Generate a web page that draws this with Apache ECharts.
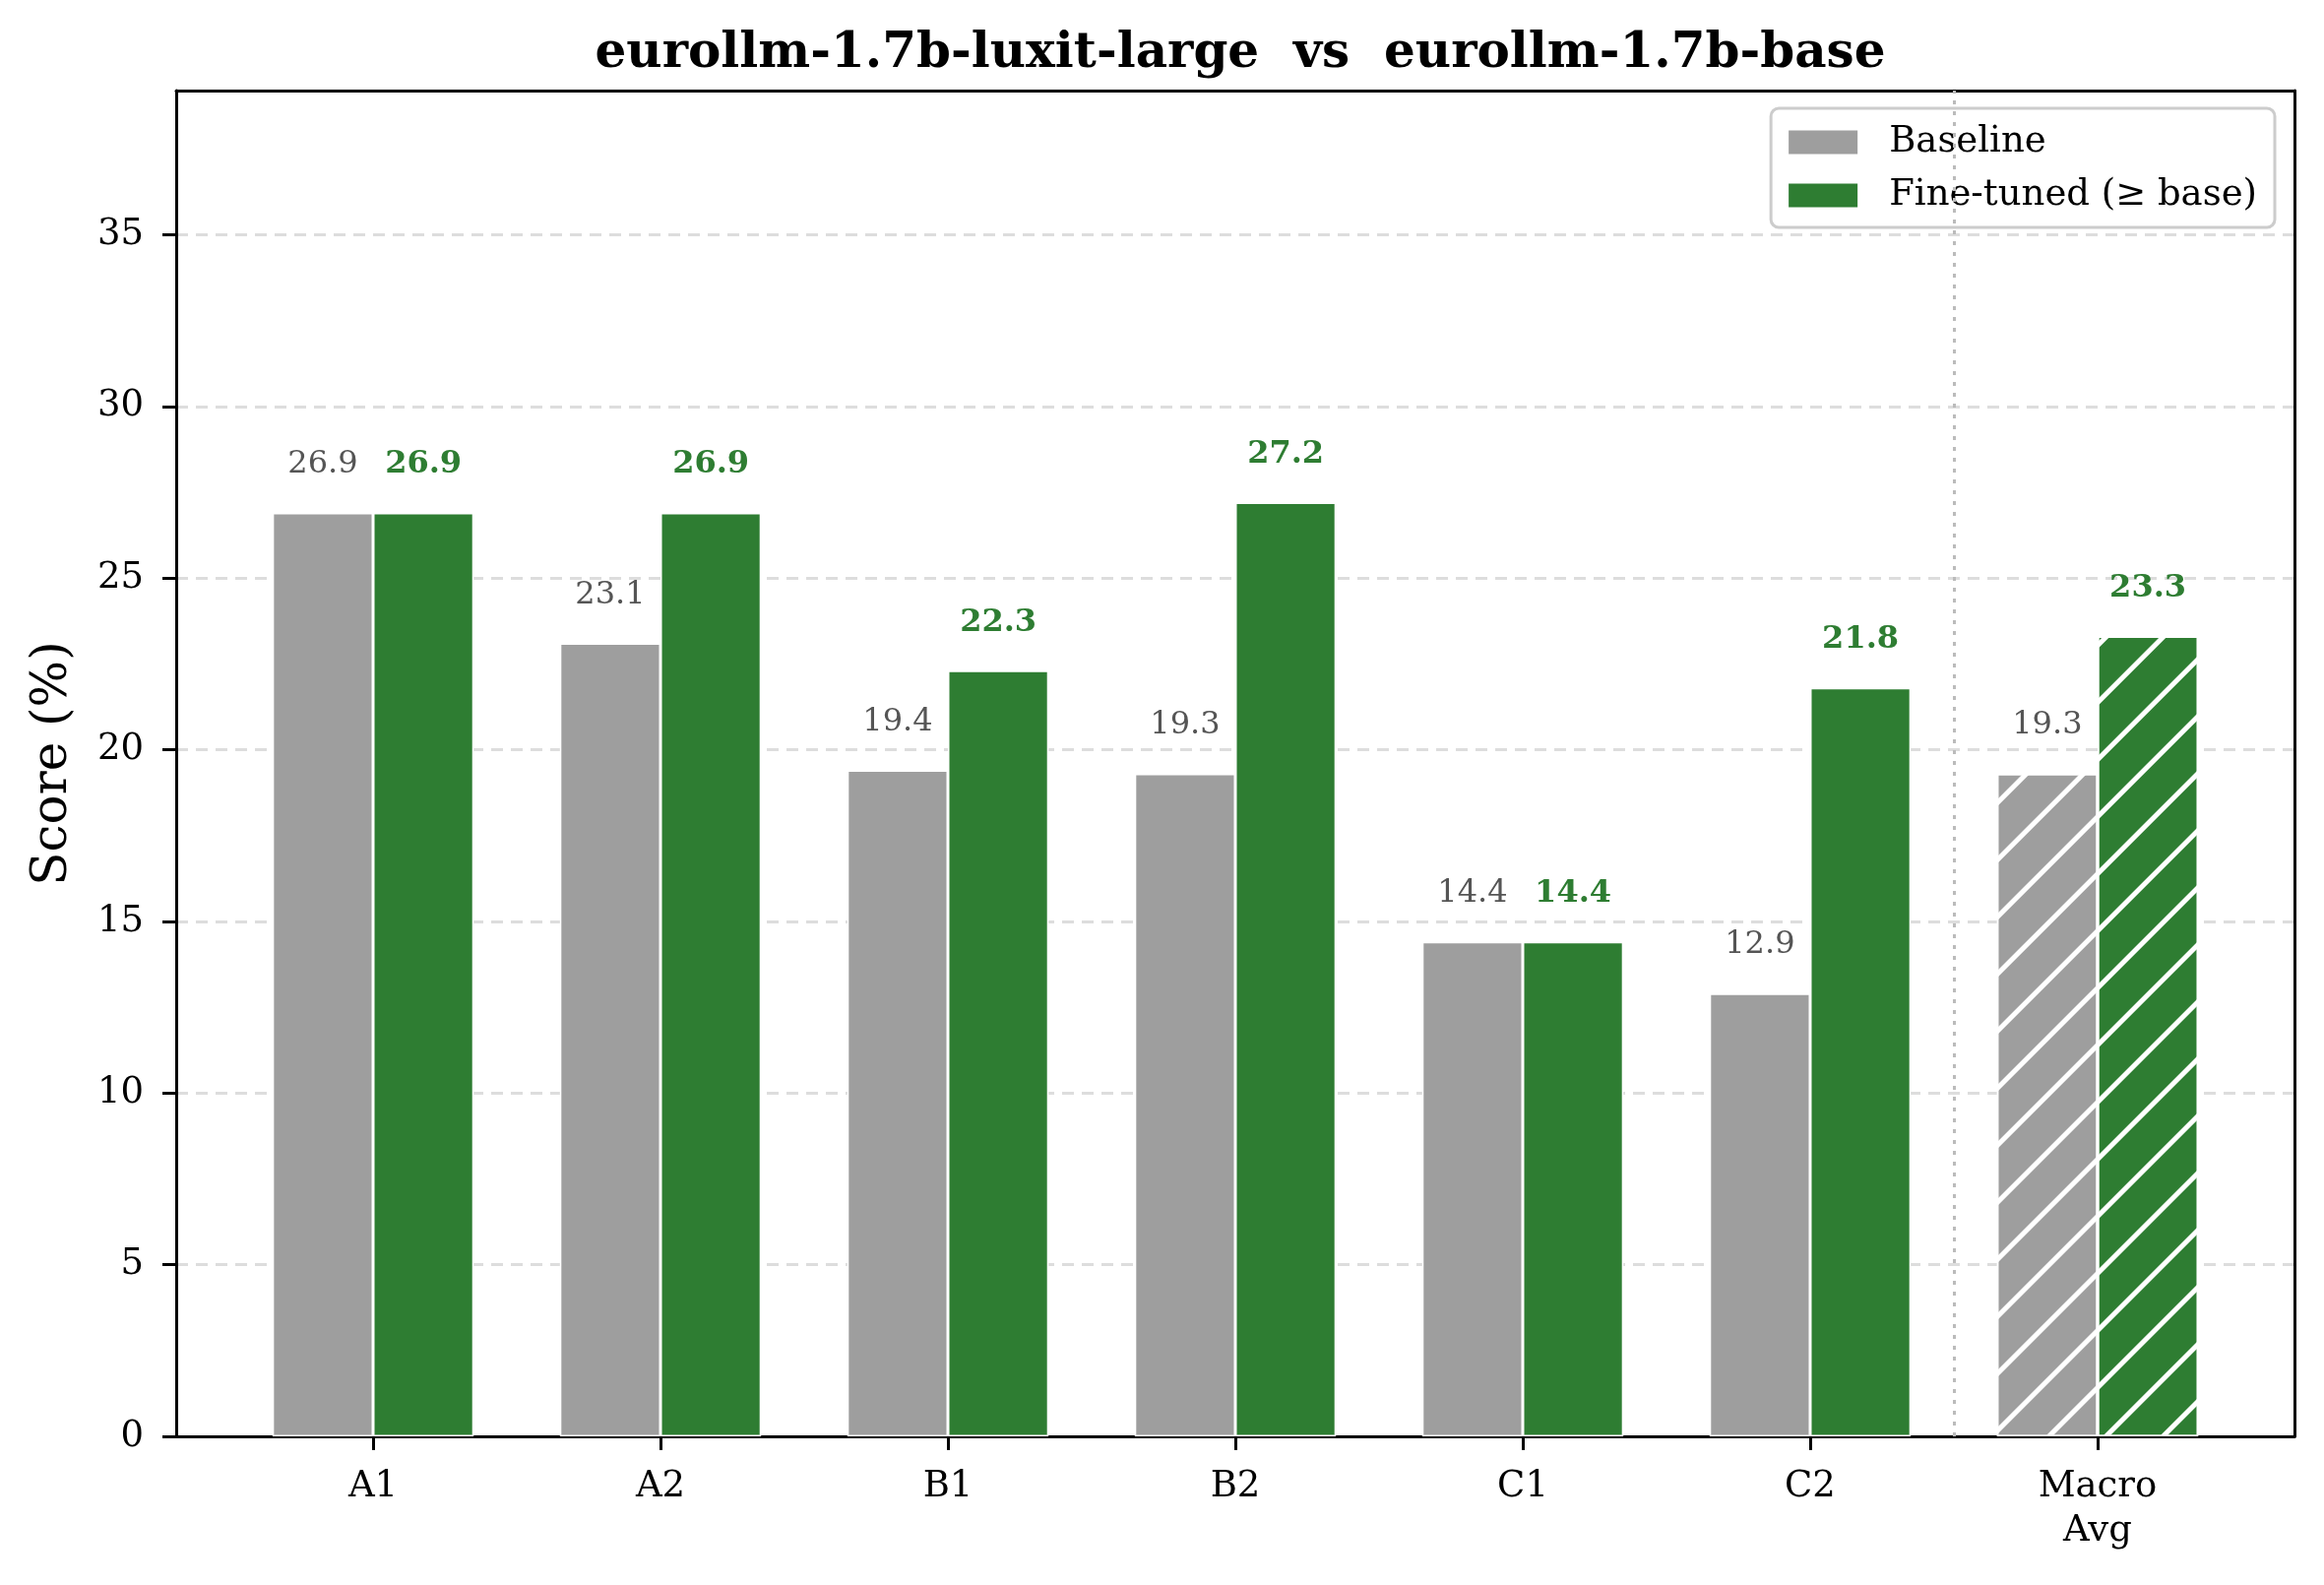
<!DOCTYPE html>
<html>
<head>
<meta charset="utf-8">
<script src="https://cdn.jsdelivr.net/npm/echarts@6/dist/echarts.min.js"></script>
<style>
html,body{margin:0;padding:0;background:#fff;}
#chart{width:2361px;height:1610px;}
</style>
</head>
<body>
<div id="chart"></div>
<script>
const categories = ['A1', 'A2', 'B1', 'B2', 'C1', 'C2', 'Macro\nAvg'];
const baseline = [26.9, 23.1, 19.4, 19.3, 14.4, 12.9, 19.3];
const finetuned = [26.9, 26.9, 22.3, 27.2, 14.4, 21.8, 23.3];
const hatchedIndex = 6;        // Macro Avg bars are hatched
const separatorAt = 5.5;       // dotted separator between C2 and Macro Avg
const yMin = 0, yMax = 39.2, yInterval = 5;
const xLim = [-0.685, 6.685];

const W = 2361, H = 1610;
const plot = {left: 179, right: 2331, top: 92, bottom: 1459};
const unit = (plot.right - plot.left) / (xLim[1] - xLim[0]);
const innerLeft = plot.left + (-0.5 - xLim[0]) * unit;
const innerRight = plot.left + (categories.length - 0.5 - xLim[0]) * unit;

const FONT = 'DejaVu Serif';
const GRAY = '#9e9e9e', GREEN = '#2e7d32';
const frameLine = {show: true, onZero: false, lineStyle: {color: '#000', width: 3}};

const hatch = {
  symbol: 'rect', symbolSize: 1,
  dashArrayX: [1, 0], dashArrayY: [5, 36],
  rotation: -Math.PI / 4, color: '#ffffff'
};

function items(vals) {
  return vals.map((v, i) => i === hatchedIndex
    ? {value: v, itemStyle: {decal: hatch}}
    : {value: v});
}

const chart = echarts.init(document.getElementById('chart'), null, {renderer: 'canvas'});
chart.setOption({
  backgroundColor: '#ffffff',
  animation: false,
  title: {
    text: 'eurollm-1.7b-luxit-large  vs  eurollm-1.7b-base',
    left: (plot.left + plot.right) / 2, top: 25, textAlign: 'center',
    textStyle: {fontFamily: FONT, fontWeight: 'bold', fontSize: 50, color: '#000'}
  },
  legend: {
    data: ['Baseline', 'Fine-tuned (≥ base)'],
    orient: 'vertical', right: W - 2311, top: 110,
    icon: 'rect', itemWidth: 72, itemHeight: 26, itemGap: 17,
    padding: [16, 18, 14, 16],
    backgroundColor: 'rgba(255,255,255,0.85)',
    borderColor: '#cccccc', borderWidth: 3, borderRadius: 8,
    textStyle: {fontFamily: FONT, fontSize: 37, color: '#000', padding: [0, 0, 0, 26]}
  },
  grid: [
    {left: plot.left, right: W - plot.right, top: plot.top, bottom: H - plot.bottom},
    {left: innerLeft, right: W - innerRight, top: plot.top, bottom: H - plot.bottom}
  ],
  xAxis: [
    {type: 'value', gridIndex: 0, position: 'bottom', min: xLim[0], max: xLim[1],
     axisLine: frameLine, axisTick: {show: false}, axisLabel: {show: false}, splitLine: {show: false}},
    {type: 'category', gridIndex: 1, data: categories, boundaryGap: true,
     axisLine: {show: false, onZero: false},
     axisTick: {show: true, alignWithLabel: true, length: 14, lineStyle: {color: '#000', width: 3}},
     axisLabel: {fontFamily: FONT, fontSize: 37, color: '#000', margin: 29, lineHeight: 45, interval: 0},
     splitLine: {show: false}},
    {type: 'value', gridIndex: 0, position: 'top', min: xLim[0], max: xLim[1],
     axisLine: frameLine, axisTick: {show: false}, axisLabel: {show: false}, splitLine: {show: false}}
  ],
  yAxis: [
    {type: 'value', gridIndex: 0, position: 'left', min: yMin, max: yMax, interval: yInterval,
     name: 'Score (%)', nameLocation: 'middle', nameGap: 100, nameRotate: 90,
     nameTextStyle: {fontFamily: FONT, fontSize: 50, color: '#000'},
     axisLine: frameLine,
     axisTick: {show: true, length: 14, lineStyle: {color: '#000', width: 3}},
     axisLabel: {fontFamily: FONT, fontSize: 37, color: '#000', margin: 33, showMaxLabel: false},
     splitLine: {show: true, lineStyle: {color: '#dddddd', width: 3, type: [12, 8]}}},
    {type: 'value', gridIndex: 1, min: yMin, max: yMax, interval: yInterval, show: false,
     axisLine: {show: false, onZero: false}, splitLine: {show: false}},
    {type: 'value', gridIndex: 0, position: 'right', min: yMin, max: yMax, interval: yInterval,
     axisLine: frameLine, axisTick: {show: false}, axisLabel: {show: false}, splitLine: {show: false}}
  ],
  series: [
    {name: 'sep', type: 'line', xAxisIndex: 0, yAxisIndex: 0, data: [], silent: true,
     markLine: {symbol: 'none', silent: true, label: {show: false},
       lineStyle: {color: '#bbbbbb', width: 3, type: [4, 7]},
       data: [{xAxis: separatorAt}]}},
    {name: 'Baseline', type: 'bar', xAxisIndex: 1, yAxisIndex: 1,
     data: items(baseline), barWidth: '35%', barGap: '0%',
     itemStyle: {color: GRAY, borderColor: '#ffffff', borderWidth: 1.5},
     label: {show: true, position: 'top', distance: 33, formatter: p => p.value.toFixed(1),
       fontFamily: FONT, fontSize: 32, color: '#555555'}},
    {name: 'Fine-tuned (≥ base)', type: 'bar', xAxisIndex: 1, yAxisIndex: 1,
     data: items(finetuned), barWidth: '35%', barGap: '0%',
     itemStyle: {color: GREEN, borderColor: '#ffffff', borderWidth: 1.5},
     label: {show: true, position: 'top', distance: 33, formatter: p => p.value.toFixed(1),
       fontFamily: FONT, fontSize: 32, fontWeight: 'bold', color: GREEN}}
  ]
});
</script>
</body>
</html>
